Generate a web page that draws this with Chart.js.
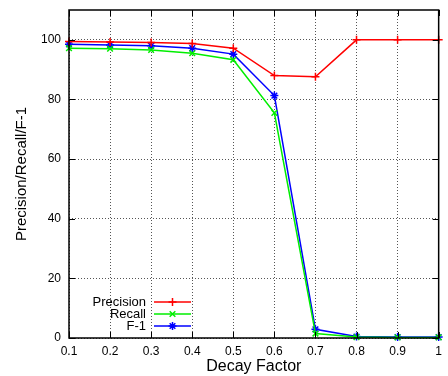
<!DOCTYPE html>
<html>
<head>
<meta charset="utf-8">
<script src="https://cdn.jsdelivr.net/npm/chart.js@4"></script>
<style>
  html, body { margin: 0; padding: 0; background: #fff; }
  #wrap { width: 448px; height: 376px; }
</style>
</head>
<body>
<div id="wrap"><canvas id="chart" width="448" height="376"></canvas></div>
<script>
// values
const decayFactors = [0.1, 0.2, 0.3, 0.4, 0.5, 0.6, 0.7, 0.8, 0.9, 1.0];
const precision = [99.4, 99.3, 99.1, 98.8, 97.2, 88.0, 87.6, 100, 100, 100];
const recall = [97.2, 97.0, 96.6, 95.5, 93.3, 75.5, 1.5, 0.3, 0.2, 0.2];
const f1 = [98.5, 98.3, 98.0, 97.2, 95.2, 81.3, 2.9, 0.5, 0.3, 0.3];
const xTicks = [0.1, 0.2, 0.3, 0.4, 0.5, 0.6, 0.7, 0.8, 0.9, 1.0];
const yTicks = [0, 20, 40, 60, 80, 100];

const FONT = "'Liberation Sans', Arial, sans-serif";

function series(label, values, color, style) {
    return {
        label: label,
        data: decayFactors.map((x, i) => ({ x: x, y: values[i] })),
        borderColor: color,
        backgroundColor: color,
        borderWidth: 1.5,
        pointStyle: style,
        pointRadius: 4,
        pointBorderWidth: 1.5,
        pointHoverRadius: 4,
        tension: 0,
        clip: false
    };
}

// gnuplot-like frame with inward ticks on all four sides
const framePlugin = {
    id: 'frame',
    afterDatasetsDraw(chart) {
        const { ctx, chartArea: a, scales } = chart;
        ctx.save();
        ctx.strokeStyle = '#000';
        ctx.lineWidth = 1;
        ctx.beginPath();
        scales.x.ticks.forEach(t => {
            const px = Math.round(scales.x.getPixelForValue(t.value)) + 0.5;
            ctx.moveTo(px, a.bottom); ctx.lineTo(px, a.bottom - 6);
            ctx.moveTo(px, a.top); ctx.lineTo(px, a.top + 6);
        });
        scales.y.ticks.forEach(t => {
            const py = Math.round(scales.y.getPixelForValue(t.value)) + 0.5;
            ctx.moveTo(a.left, py); ctx.lineTo(a.left + 6, py);
            ctx.moveTo(a.right, py); ctx.lineTo(a.right - 6, py);
        });
        ctx.stroke();
        ctx.lineWidth = 1.5;
        ctx.strokeRect(a.left, a.top, a.right - a.left, a.bottom - a.top);
        ctx.restore();
    },
    afterDraw(chart) {
        // legend inside the plot, bottom left, text right-aligned
        const ctx = chart.ctx;
        const textRight = 146, lineStart = 154, lineEnd = 191;
        let y = 302;
        ctx.save();
        ctx.font = '13px ' + FONT;
        ctx.textAlign = 'right';
        ctx.textBaseline = 'middle';
        chart.data.datasets.forEach(ds => {
            ctx.fillStyle = '#000';
            ctx.fillText(ds.label, textRight, y);
            ctx.strokeStyle = ds.borderColor;
            ctx.lineWidth = 1.5;
            ctx.beginPath();
            ctx.moveTo(lineStart, y);
            ctx.lineTo(lineEnd, y);
            ctx.stroke();
            Chart.helpers.drawPoint(ctx, {
                pointStyle: ds.pointStyle, radius: 4, rotation: 0, borderWidth: 1.5
            }, (lineStart + lineEnd) / 2, y);
            y += 12;
        });
        ctx.restore();
    }
};

new Chart(document.getElementById('chart'), {
    type: 'line',
    data: {
        datasets: [
            series('Precision', precision, '#ff0000', 'cross'),
            series('Recall', recall, '#00ee00', 'crossRot'),
            series('F-1', f1, '#0000ff', 'star')
        ]
    },
    options: {
        responsive: false,
        animation: false,
        layout: { padding: { left: 0, right: 5, top: 10, bottom: 0 } },
        plugins: {
            legend: { display: false },
            tooltip: { enabled: false }
        },
        scales: {
            x: {
                type: 'linear',
                min: 0.1,
                max: 1.0,
                afterBuildTicks: axis => { axis.ticks = xTicks.map(v => ({ value: v })); },
                afterFit: axis => { axis.height = 38; },
                grid: { color: '#555', lineWidth: 1, drawTicks: false },
                border: { display: false, dash: [1, 2] },
                ticks: {
                    color: '#000',
                    padding: 6,
                    maxRotation: 0,
                    font: { family: FONT, size: 12 },
                    callback: v => String(Number(v.toFixed(1)))
                },
                title: {
                    display: true,
                    text: 'Decay Factor',
                    color: '#000',
                    font: { family: FONT, size: 16 },
                    padding: { top: 0, bottom: 0 }
                }
            },
            y: {
                type: 'linear',
                min: 0,
                max: 110,
                afterBuildTicks: axis => { axis.ticks = yTicks.map(v => ({ value: v })); },
                afterFit: axis => { axis.width = 69; axis.paddingTop = 0; axis.paddingBottom = 0; },
                grid: { color: '#555', lineWidth: 1, drawTicks: false },
                border: { display: false, dash: [1, 2] },
                ticks: {
                    color: '#000',
                    padding: 8,
                    font: { family: FONT, size: 12 }
                },
                title: {
                    display: true,
                    text: 'Precision/Recall/F-1',
                    color: '#000',
                    font: { family: FONT, size: 15 },
                    padding: { top: 13, bottom: 0 }
                }
            }
        }
    },
    plugins: [framePlugin]
});
</script>
</body>
</html>
